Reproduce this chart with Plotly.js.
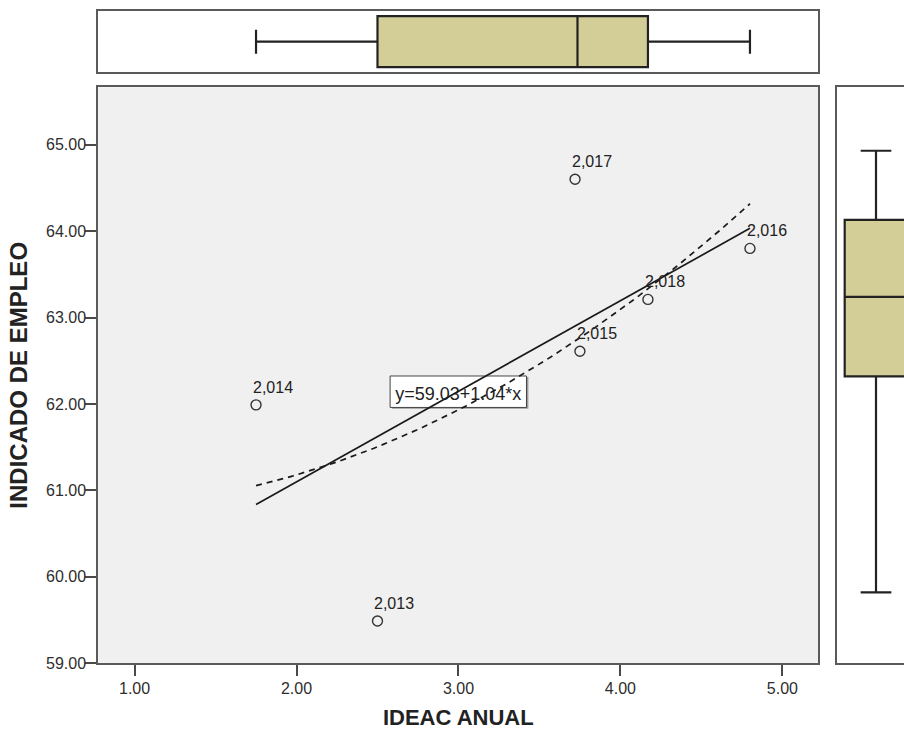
<!DOCTYPE html>
<html><head><meta charset="utf-8">
<script src="https://cdn.plot.ly/plotly-3.0.1.min.js"></script>
<style>html,body{margin:0;padding:0;overflow:hidden;background:#fff}#chart{width:904px;height:731px}</style>
</head><body><div id="chart"></div>
<script>
// ---- data ----
const yearLabels = ['2,013', '2,014', '2,015', '2,016', '2,017', '2,018'];
const ideacAnual = [2.50, 1.75, 3.75, 4.80, 3.72, 4.17];
const indicadoEmpleo = [59.49, 61.99, 62.61, 63.80, 64.60, 63.21];
const xTickVals = [1, 2, 3, 4, 5];
const yTickVals = [59, 60, 61, 62, 63, 64, 65];
const equationText = 'y=59.03+1.04*x';
const xTitle = 'IDEAC ANUAL';
const yTitle = 'INDICADO DE EMPLEO';

// ---- least-squares fits computed from the data ----
function fitPoly(xs, ys, deg) {
  const n = deg + 1;
  const A = [], b = [];
  for (let i = 0; i < n; i++) {
    A.push([]);
    for (let j = 0; j < n; j++) A[i].push(xs.reduce((s, x) => s + Math.pow(x, i + j), 0));
    b.push(xs.reduce((s, x, k) => s + Math.pow(x, i) * ys[k], 0));
  }
  for (let c = 0; c < n; c++) {
    let p = c;
    for (let r = c + 1; r < n; r++) if (Math.abs(A[r][c]) > Math.abs(A[p][c])) p = r;
    [A[c], A[p]] = [A[p], A[c]]; [b[c], b[p]] = [b[p], b[c]];
    for (let r = c + 1; r < n; r++) {
      const f = A[r][c] / A[c][c];
      for (let k = c; k < n; k++) A[r][k] -= f * A[c][k];
      b[r] -= f * b[c];
    }
  }
  const coef = new Array(n).fill(0);
  for (let r = n - 1; r >= 0; r--) {
    let s = b[r];
    for (let k = r + 1; k < n; k++) s -= A[r][k] * coef[k];
    coef[r] = s / A[r][r];
  }
  return coef;
}
const evalPoly = (c, x) => c.reduce((s, a, i) => s + a * Math.pow(x, i), 0);
const xMin = Math.min(...ideacAnual), xMax = Math.max(...ideacAnual);
const linC = fitPoly(ideacAnual, indicadoEmpleo, 1);
const quadC = fitPoly(ideacAnual, indicadoEmpleo, 2);
const curveX = [];
for (let i = 0; i <= 80; i++) curveX.push(xMin + (xMax - xMin) * i / 80);

// ---- layout geometry (pixels of the 904x731 page) ----
const W = 904, H = 731;
const px = v => v / W, py = v => 1 - v / H;
const FONT = 'Arial, "Liberation Sans", sans-serif';
const boxFill = '#d3ce98';

const traces = [
  { type: 'scatter', mode: 'lines', x: [xMin, xMax], y: [evalPoly(linC, xMin), evalPoly(linC, xMax)],
    line: { color: '#1a1a1a', width: 1.7 }, xaxis: 'x', yaxis: 'y', hoverinfo: 'skip' },
  { type: 'scatter', mode: 'lines', x: curveX, y: curveX.map(x => evalPoly(quadC, x)),
    line: { color: '#1a1a1a', width: 1.7, dash: '6px,5px' }, xaxis: 'x', yaxis: 'y', hoverinfo: 'skip' },
  { type: 'scatter', mode: 'markers', x: ideacAnual, y: indicadoEmpleo, text: yearLabels,
    marker: { symbol: 'circle-open', size: 10, color: '#333', line: { width: 1.4, color: '#333' } },
    xaxis: 'x', yaxis: 'y' },
  { type: 'box', x: ideacAnual, y0: 0, orientation: 'h', width: 1, boxpoints: false,
    quartilemethod: 'exclusive', fillcolor: boxFill, line: { color: '#222', width: 2.2 },
    whiskerwidth: 0.47, xaxis: 'x2', yaxis: 'y2', hoverinfo: 'x' },
  { type: 'box', y: indicadoEmpleo, x0: 0, width: 1, boxpoints: false,
    quartilemethod: 'exclusive', fillcolor: boxFill, line: { color: '#222', width: 2.2 },
    whiskerwidth: 0.49, xaxis: 'x3', yaxis: 'y3', hoverinfo: 'y' }
];

const frame = { showline: true, linecolor: '#5a5a5a', linewidth: 2, showgrid: false, zeroline: false };
const tickStyle = { ticks: 'outside', ticklen: 11, tickwidth: 2, tickcolor: '#4a4a4a',
  tickfont: { family: FONT, size: 16, color: '#2e2e2e' }, tickformat: '.2f' };

const layout = {
  width: W, height: H, margin: { l: 0, r: 0, t: 0, b: 0 },
  paper_bgcolor: '#fff', plot_bgcolor: '#fff', showlegend: false,
  font: { family: FONT },
  xaxis: Object.assign({}, frame, tickStyle, {
    domain: [px(98.3), px(818.3)], range: [0.776, 5.222], anchor: 'y', mirror: true,
    tickvals: xTickVals, ticklabelstandoff: -2,
    title: { text: '<b>' + xTitle + '</b>', font: { family: FONT, size: 22, color: '#222' }, standoff: 14 } }),
  yaxis: Object.assign({}, frame, tickStyle, {
    domain: [py(663.3), py(87.3)], range: [59, 65.664], anchor: 'x', mirror: true,
    tickvals: yTickVals, ticklabelstandoff: -4,
    title: { text: '<b>' + yTitle + '</b>', font: { family: FONT, size: 24, color: '#222' }, standoff: 12 } }),
  xaxis2: Object.assign({}, frame, {
    domain: [px(98.3), px(818.3)], range: [0.776, 5.222], anchor: 'y2', mirror: true,
    showticklabels: false, ticks: '' }),
  yaxis2: Object.assign({}, frame, {
    domain: [py(72), py(11.3)], range: [-0.594, 0.596], anchor: 'x2', mirror: true,
    showticklabels: false, ticks: '' }),
  xaxis3: Object.assign({}, frame, {
    domain: [px(837.3), 1], range: [-0.618, 0.447], anchor: 'y3', mirror: true,
    showticklabels: false, ticks: '' }),
  yaxis3: Object.assign({}, frame, {
    domain: [py(663.3), py(87.3)], range: [58.669, 65.334], anchor: 'x3', mirror: false,
    showticklabels: false, ticks: '' }),
  shapes: [
    { type: 'rect', xref: 'x domain', yref: 'y domain', x0: 0, x1: 1, y0: 0, y1: 1,
      fillcolor: '#f0f0f0', line: { width: 0 }, layer: 'below' },
    { type: 'rect', xref: 'x', yref: 'y', x0: 2.590, x1: 3.432, y0: 61.945, y1: 62.312,
      fillcolor: '#9a9a9a', line: { width: 0 }, layer: 'below' },
    { type: 'rect', xref: 'x', yref: 'y', x0: 2.578, x1: 3.420, y0: 61.960, y1: 62.324,
      fillcolor: '#ffffff', line: { color: '#444', width: 1 }, layer: 'below',
      label: { text: equationText, font: { family: FONT, size: 18, color: '#222' },
        textposition: 'middle center' } }
  ],
  annotations: ideacAnual.map((x, i) => ({
    x: x, y: indicadoEmpleo[i], xref: 'x', yref: 'y', text: yearLabels[i], showarrow: false,
    xanchor: 'left', yanchor: 'bottom', xshift: -5, yshift: 7,
    font: { family: FONT, size: 16, color: '#222' } }))
};

Plotly.newPlot('chart', traces, layout, { displayModeBar: false, staticPlot: true });
</script>
</body></html>
